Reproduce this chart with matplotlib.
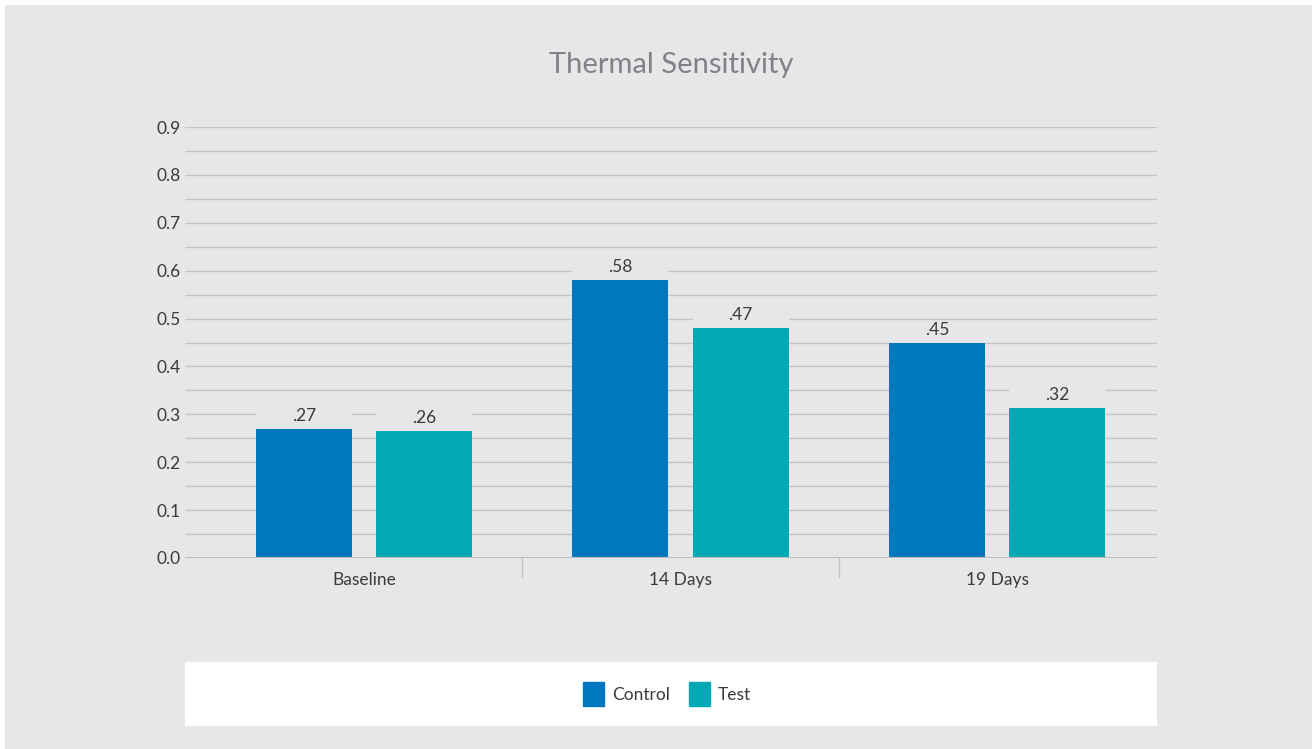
import matplotlib
matplotlib.use('Agg')
from matplotlib import pyplot as plt
from matplotlib.patches import Rectangle, Patch
import numpy as np

plt.rcParams['font.family'] = ['Lato', 'DejaVu Sans']

categories = ['Baseline', '14 Days', '19 Days']
control = [0.27, 0.58, 0.45]
test = [0.265, 0.48, 0.313]
control_labels = ['.27', '.58', '.45']
test_labels = ['.26', '.47', '.32']

bg = '#e6e7e9'
c_control = '#0077bf'
c_test = '#00a9b5'
grid_c = '#c3c4c6'
txt = '#3a3a3a'

fig = plt.figure(figsize=(13.12, 7.49), dpi=100, facecolor='white')
fig.patches.append(Rectangle((5/1312, 0), 1 - 5/1312, 1 - 5/749,
                             transform=fig.transFigure, facecolor=bg,
                             edgecolor='none', zorder=-2))
# legend box
fig.patches.append(Rectangle((185/1312, 1 - 726/749), (1157-185)/1312, 64/749,
                             transform=fig.transFigure, facecolor='white',
                             edgecolor='none', zorder=-1))

ax = fig.add_axes([185/1312, 1 - 558/749, (1157-185)/1312, (558-127)/749])
ax.set_facecolor('none')

x = np.arange(len(categories))
w = 0.303
off = 0.19
b1 = ax.bar(x - off, control, w, color=c_control, zorder=3)
b2 = ax.bar(x + off, test, w, color=c_test, zorder=3)

for bars, labs in ((b1, control_labels), (b2, test_labels)):
    for b, lab in zip(bars, labs):
        ax.text(b.get_x() + b.get_width()/2, b.get_height() + 0.01, lab,
                ha='center', va='bottom', fontsize=12.5, color=txt, zorder=4)
        # grid break behind label
        ax.add_patch(Rectangle((b.get_x(), b.get_height()),
                               b.get_width(), 0.045,
                               facecolor=bg, edgecolor='none', zorder=2))

ax.set_xlim(-0.565, 2.505)
ax.set_ylim(0, 0.9)
ax.set_yticks(np.arange(0, 0.91, 0.1))
ax.set_yticklabels(['%.1f' % v for v in np.arange(0, 0.91, 0.1)])
for yv in np.arange(0.05, 0.91, 0.05):
    ax.axhline(yv, color=grid_c, lw=1, zorder=1)
ax.axhline(0, color='#bbbbbb', lw=1.5, zorder=4)

ax.set_xticks(x)
ax.set_xticklabels(categories)
for d in (0.5, 1.5):
    ax.plot([d, d], [0, -0.04], color='#c3c4c6', lw=1, clip_on=False)

for s in ax.spines.values():
    s.set_visible(False)
ax.tick_params(axis='both', length=0, labelsize=12.5, colors=txt)
ax.tick_params(axis='y', pad=3)
ax.tick_params(axis='x', pad=10)

fig.text(671/1312, 1 - 65/749, 'Thermal Sensitivity', ha='center', va='center',
         fontsize=21, color='#808285')

handles = [Patch(color=c_control, label='Control'), Patch(color=c_test, label='Test')]
leg = fig.legend(handles=handles, loc='center', bbox_to_anchor=(667/1312, 1 - 694/749),
                 ncol=2, frameon=False, fontsize=12.5, handlelength=1.2,
                 handleheight=1.7, handletextpad=0.45, columnspacing=1.1)
for t in leg.get_texts():
    t.set_color(txt)

plt.savefig('out.png', dpi=100, facecolor='white')
